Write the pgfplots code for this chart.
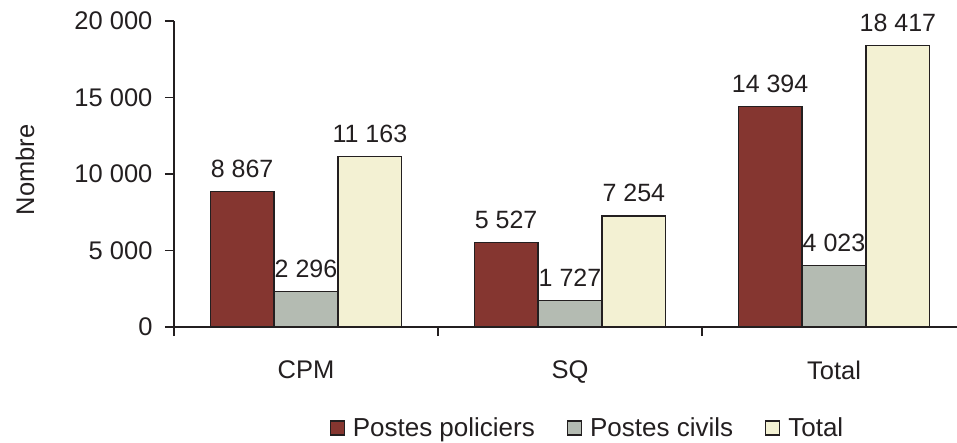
\documentclass[border=0pt]{standalone}
\usepackage{pgfplots}
\pgfplotsset{compat=1.18}
\usepackage{fontspec}
\setmainfont{Liberation Sans}
\definecolor{cRed}{RGB}{133,54,48}
\definecolor{cGray}{RGB}{180,187,178}
\definecolor{cCream}{RGB}{243,241,211}
\definecolor{cText}{RGB}{35,31,32}
\newcommand{\myfont}{\fontsize{25.5}{30}\selectfont}
\newcommand{\legfont}{\fontsize{26}{30}\selectfont}
\begin{document}
\begin{tikzpicture}
\useasboundingbox (-174pt,-115pt) rectangle (783pt,327pt);
\begin{axis}[
  scale only axis,
  width=783pt, height=306pt,
  ybar=0pt,
  bar width=0.242,
  xmin=-0.5, xmax=2.466,
  ymin=0, ymax=20000,
  axis x line=bottom, axis y line=left,
  axis line style={-, line width=1.3pt, draw=cText},
  tick align=outside,
  major tick length=9pt,
  tick style={line width=1.3pt, draw=cText},
  xtick={-0.5,0.5,1.5}, xticklabels={},
  extra x ticks={0,1,2},
  extra x tick labels={CPM,SQ,Total},
  extra x tick style={major tick length=0pt, tick label style={yshift=-30pt}},
  ytick={0,5000,10000,15000,20000},
  scaled y ticks=false,
  /pgf/number format/.cd, 1000 sep={\ }, assume math mode=true, /pgfplots/.cd,
  tick label style={font=\myfont, text=cText},
  yticklabel style={xshift=-9pt},
  ylabel={Nombre},
  every axis y label/.style={at={(axis description cs:0,0.5)}, xshift=-149pt, yshift=4pt, anchor=center, rotate=90, font=\myfont, text=cText},
  nodes near coords,
  nodes near coords style={font=\fontsize{25}{29}\selectfont, text=cText, anchor=south, yshift=10pt, /pgf/number format/.cd, 1000 sep={\ }, assume math mode=true},
  legend style={at={(0.528,-0.330)}, anchor=center, legend columns=3, draw=none, font=\legfont, text=cText,
    /tikz/every odd column/.append style={column sep=6pt},
    /tikz/every even column/.append style={column sep=30pt}},
  legend image code/.code={\draw[#1, draw=cText, line width=1.2pt] (0pt,-7pt) rectangle (14pt,7pt);},
  every axis plot/.append style={draw=cText, line width=1.2pt},
]
\addplot[fill=cRed] coordinates {(0,8867) (1,5527) (2,14394)};
\addplot[fill=cGray] coordinates {(0,2296) (1,1727) (2,4023)};
\addplot[fill=cCream] coordinates {(0,11163) (1,7254) (2,18417)};
\legend{Postes policiers, Postes civils, Total}
\end{axis}
\end{tikzpicture}
\end{document}
